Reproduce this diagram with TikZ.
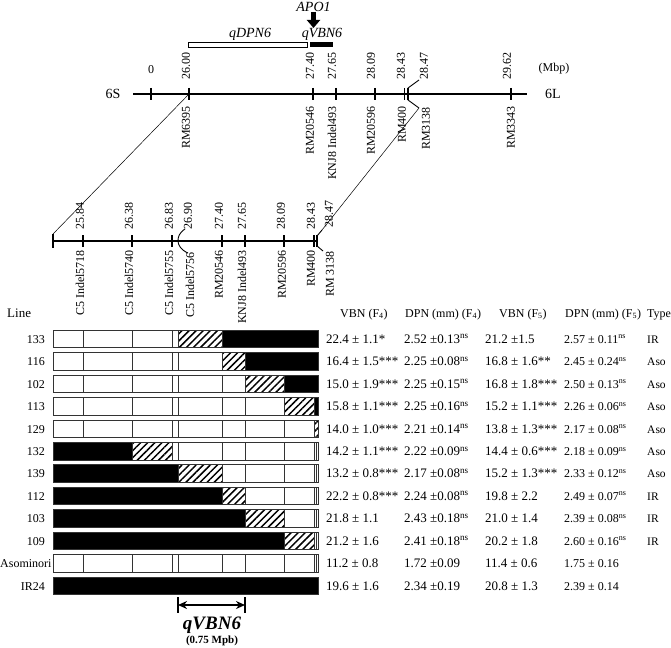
\documentclass[tikz,border=0pt]{standalone}
\usepackage{fontspec}
\setmainfont{Liberation Serif}
\usetikzlibrary{arrows.meta,patterns.meta}
\newcommand{\nsmark}{\textsuperscript{ns}}

\begin{document}
\begin{tikzpicture}[x = 1pt, y = -1pt,
		chrom/.style = {line width = 2pt},
		tickmark/.style = {line width = 1.3pt},
		lead/.style = {line width = 0.9pt},
		link/.style = {line width = 0.5pt},
		mbp/.style = {rotate = 90, anchor = west, inner sep = 0pt,
			font = \fontsize{12}{12}\selectfont},
		mrk/.style = {rotate = 90, anchor = east, inner sep = 0pt,
			font = \fontsize{12}{12}\selectfont},
		qtl/.style = {inner sep = 0pt, font = \fontsize{14}{14}\selectfont\itshape},
		colsep/.style = {draw = black!80, line width = 1pt},
		hatch/.style = {draw = black!80, line width = 1pt, preaction = {fill = white},
			pattern = {Lines[angle = 45, distance = 5pt, line width = 1.5pt]}},
		colhead/.style = {anchor = base west, inner sep = 0pt,
			font = \fontsize{12}{12}\selectfont},
		dat/.style = {anchor = base west, inner sep = 0pt,
			font = \fontsize{13}{13}\selectfont},
		rowlab/.style = {anchor = base east, inner sep = 0pt,
			font = \fontsize{12}{12}\selectfont}]

	\useasboundingbox (0,0) rectangle (671,647);

	% top map
	\node [qtl] (apo) at (313.5,7) {APO1};
	\coordinate (apo_tip) at (313.5,28);
	\draw [line width = 4.5pt, -{Triangle[width = 13pt, length = 8pt]}] (apo) -- (apo_tip);
	\node [qtl] (q_dpn) at (250,34) {qDPN6};
	\node [qtl] (q_vbn) at (322,34) {qVBN6};
	\draw [line width = 0.8pt, fill = white] (188,42) rectangle (307,47.5);
	\fill (310,42) rectangle (333,47.5);

	\node [font = \fontsize{14}{14}\selectfont] (s6) at (113,94) {6S};
	\node [font = \fontsize{14}{14}\selectfont] (l6) at (553,94) {6L};
	\node [font = \fontsize{12}{12}\selectfont] (unit) at (554,69) {(Mbp)};

	\draw [chrom] (133,94) -- (527,94);
	\foreach \t in {151,189,313,336,375,404.5,408,511}
		\draw [tickmark] (\t,88) -- (\t,100);
	\coordinate (t_26) at (189,94);
	\coordinate (t_lo) at (419,108);
	\draw [lead] (408,88) -- (419,80);
	\draw [lead] (408,100) -- (t_lo);

	\node [font = \fontsize{12}{12}\selectfont] (p_0) at (151,70) {0};
	\node [mbp] (p_2600) at (186,80) {26.00};
	\node [mbp] (p_2740) at (310,80) {27.40};
	\node [mbp] (p_2765) at (332,80) {27.65};
	\node [mbp] (p_2809) at (371,80) {28.09};
	\node [mbp] (p_2843) at (401,80) {28.43};
	\node [mbp] (p_2847) at (424,80) {28.47};
	\node [mbp] (p_2962) at (507,80) {29.62};

	\node [mrk] (m_6395) at (186,106) {RM6395};
	\node [mrk] (m_20546) at (310,106) {RM20546};
	\node [mrk] (m_493) at (332,106) {KNJ8 Indel493};
	\node [mrk] (m_20596) at (371,106) {RM20596};
	\node [mrk] (m_400) at (402,106) {RM400};
	\node [mrk] (m_3138) at (426,107) {RM3138};
	\node [mrk] (m_3343) at (511,106) {RM3343};

	% lower map
	\draw [chrom] (53,241) -- (318,241);
	\draw [tickmark] (53,234) -- (53,248);
	\foreach \t in {83,132,172,222,245,284,314,317}
		\draw [tickmark] (\t,235) -- (\t,247);
	\coordinate (b_l) at (53,234);
	\coordinate (b_up) at (322,230);
	\draw [lead] (185,229) .. controls (179,233) and (178,237) .. (178,241)
		.. controls (178,245) and (181,250) .. (188,253);
	\draw [lead] (317,236) -- (b_up);
	\draw [lead] (317,246) -- (323,251);

	\draw [link] (t_26) -- (b_l);
	\draw [link] (t_lo) -- (b_up);

	\node [mbp] (b_2584) at (80,230) {25.84};
	\node [mbp] (b_2638) at (129,230) {26.38};
	\node [mbp] (b_2683) at (169,230) {26.83};
	\node [mbp] (b_2690) at (188,230) {26.90};
	\node [mbp] (b_2740) at (219,230) {27.40};
	\node [mbp] (b_2765) at (242,230) {27.65};
	\node [mbp] (b_2809) at (281,230) {28.09};
	\node [mbp] (b_2843) at (311,230) {28.43};
	\node [mbp] (b_2847) at (329,228) {28.47};

	\node [mrk] (c_5718) at (80,250) {C5 Indel5718};
	\node [mrk] (c_5740) at (129,250) {C5 Indel5740};
	\node [mrk] (c_5755) at (169,250) {C5 Indel5755};
	\node [mrk] (c_5756) at (190,252) {C5 Indel5756};
	\node [mrk] (c_20546) at (219,250) {RM20546};
	\node [mrk] (c_493) at (242,250) {KNJ8 Indel493};
	\node [mrk] (c_20596) at (282,250) {RM20596};
	\node [mrk] (c_400) at (311,250) {RM400};
	\node [mrk] (c_3138) at (330,251) {RM 3138};

	% genotypes
	\foreach \yy/\ha/\hb/\ba/\bb in {339/178/222/222/318, 361.5/222/245/245/318,
			384/245/284/284/318, 406.5/284/314/314/318, 429/314/318/318/318,
			451.5/132/172/53/132, 473.5/178/222/53/178, 496/222/245/53/222,
			518.5/245/284/53/245, 541/284/314/53/284, 563.5/318/318/318/318,
			586/318/318/53/318} {
		\fill [white] (53,\yy-8.75) rectangle (318,\yy+8.75);
		\foreach \c in {83,132,172,178,222,245,284,314,316.5}
			\draw [colsep] (\c,\yy-8.75) -- (\c,\yy+8.75);
		\fill [black] (\ba,\yy-8.75) rectangle (\bb,\yy+8.75);
		\draw [hatch] (\ha,\yy-8.75) rectangle (\hb,\yy+8.75);
		\draw [colsep] (53,\yy-8.75) rectangle (318,\yy+8.75);
	}

	\node [colhead, font = \fontsize{13}{13}\selectfont] (h_line) at (7,317) {Line};
	\node [colhead] (h_v4) at (340,317) {VBN (F\textsubscript{4})};
	\node [colhead] (h_d4) at (405,317) {DPN (mm) (F\textsubscript{4})};
	\node [colhead] (h_v5) at (499,317) {VBN (F\textsubscript{5})};
	\node [colhead] (h_d5) at (565,317) {DPN (mm) (F\textsubscript{5})};
	\node [colhead] (h_type) at (647,317) {Type};

	\node [rowlab] (n_133) at (45,343) {133};
	\node [rowlab] (n_116) at (45,365.5) {116};
	\node [rowlab] (n_102) at (45,388) {102};
	\node [rowlab] (n_113) at (45,410.5) {113};
	\node [rowlab] (n_129) at (45,433) {129};
	\node [rowlab] (n_132) at (45,455.5) {132};
	\node [rowlab] (n_139) at (45,477.5) {139};
	\node [rowlab] (n_112) at (45,500) {112};
	\node [rowlab] (n_103) at (45,522.5) {103};
	\node [rowlab] (n_109) at (45,545) {109};
	\node [rowlab, anchor = base west] (n_aso) at (0,567.5) {Asominori};
	\node [rowlab] (n_ir) at (45,590) {IR24};

	\foreach \lab/\yy/\fa/\fb/\fc/\fd/\tp in {
			133/343/{22.4 ± 1.1*}/{2.52 ±0.13\nsmark}/{21.2 ±1.5}/{2.57 ± 0.11\nsmark}/IR,
			116/365.5/{16.4 ± 1.5***}/{2.25 ±0.08\nsmark}/{16.8 ± 1.6**}/{2.45 ± 0.24\nsmark}/Aso,
			102/388/{15.0 ± 1.9***}/{2.25 ±0.15\nsmark}/{16.8 ± 1.8***}/{2.50 ± 0.13\nsmark}/Aso,
			113/410.5/{15.8 ± 1.1***}/{2.25 ±0.16\nsmark}/{15.2 ± 1.1***}/{2.26 ± 0.06\nsmark}/Aso,
			129/433/{14.0 ± 1.0***}/{2.21 ±0.14\nsmark}/{13.8 ± 1.3***}/{2.17 ± 0.08\nsmark}/Aso,
			132/455.5/{14.2 ± 1.1***}/{2.22 ±0.09\nsmark}/{14.4 ± 0.6***}/{2.18 ± 0.09\nsmark}/Aso,
			139/477.5/{13.2 ± 0.8***}/{2.17 ±0.08\nsmark}/{15.2 ± 1.3***}/{2.33 ± 0.12\nsmark}/Aso,
			112/500/{22.2 ± 0.8***}/{2.24 ±0.08\nsmark}/{19.8 ± 2.2}/{2.49 ± 0.07\nsmark}/IR,
			103/522.5/{21.8 ± 1.1}/{2.43 ±0.18\nsmark}/{21.0 ± 1.4}/{2.39 ± 0.08\nsmark}/IR,
			109/545/{21.2 ± 1.6}/{2.41 ±0.18\nsmark}/{20.2 ± 1.8}/{2.60 ± 0.16\nsmark}/IR,
			aso/567.5/{11.2 ± 0.8}/{1.72 ±0.09}/{11.4 ± 0.6}/{1.75 ± 0.16}/{},
			ir/590/{19.6 ± 1.6}/{2.34 ±0.19}/{20.8 ± 1.3}/{2.39 ± 0.14}/{}} {
		\node [dat] (f4_\lab) at (326,\yy) {\fa};
		\node [dat] (d4_\lab) at (404,\yy) {\fb};
		\node [dat] (f5_\lab) at (485,\yy) {\fc};
		\node [dat, font = \fontsize{12}{12}\selectfont] (d5_\lab) at (564,\yy) {\fd};
		\node [dat, font = \fontsize{11.5}{12}\selectfont] (ty_\lab) at (647,\yy) {\tp};
	}

	% qVBN6 interval
	\coordinate (q_l) at (178,605);
	\coordinate (q_r) at (245,605);
	\draw [line width = 2.5pt, {Stealth[length = 9pt, width = 8pt]}-{Stealth[length = 9pt, width = 8pt]}] (q_l) -- (q_r);
	\draw [line width = 2.5pt] (178,597) -- (178,613);
	\draw [line width = 2.5pt] (245,597) -- (245,613);
	\node [font = \fontsize{19}{19}\selectfont\bfseries\itshape] (q_name) at (212,625) {qVBN6};
	\node [font = \fontsize{11}{11}\selectfont\bfseries] (q_size) at (212,641) {(0.75 Mpb)};
\end{tikzpicture}
\end{document}
